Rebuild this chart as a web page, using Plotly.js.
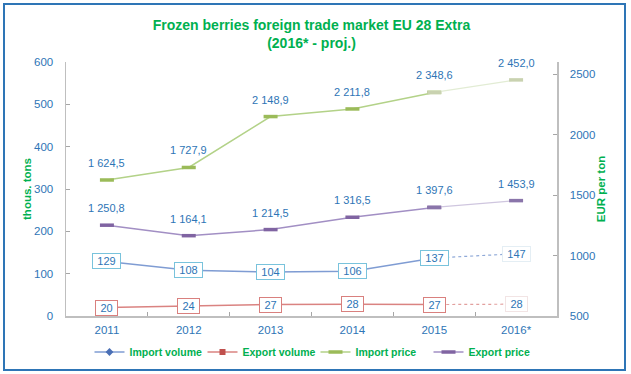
<!DOCTYPE html>
<html>
<head>
<meta charset="utf-8">
<script src="https://cdn.plot.ly/plotly-3.0.1.min.js"></script>
<style>
html,body{margin:0;padding:0;background:#fff;}
#chart{width:631px;height:374px;}
</style>
</head>
<body>
<div id="chart"></div>
<script>
const years = ["2011", "2012", "2013", "2014", "2015", "2016*"];
const importVolume = [129, 108, 104, 106, 137, 147];
const exportVolume = [20, 24, 27, 28, 27, 28];
const importPrice = [1624.5, 1727.9, 2148.9, 2211.8, 2348.6, 2452.0];
const exportPrice = [1250.8, 1164.1, 1214.5, 1316.5, 1397.6, 1453.9];
const leftTicks = [0, 100, 200, 300, 400, 500, 600];
const rightTicks = [500, 1000, 1500, 2000, 2500];

const GREEN = "#00b050";
const BLUE = "#2e75b6";
const FONT = "Liberation Sans, Arial, sans-serif";

function fmtPrice(v) {
  const s = v.toFixed(1).split(".");
  const intPart = s[0].replace(/\B(?=(\d{3})+(?!\d))/g, " ");
  return intPart + "," + s[1];
}

const hist = years.slice(0, 5);
const proj = years.slice(4);

const traces = [
  {x: hist, y: importVolume.slice(0, 5), name: "Import volume", type: "scatter", mode: "lines+markers",
   line: {color: "#7f9cd3", width: 1.5}, marker: {symbol: "diamond", size: 6, color: "#4a6fb5"}, yaxis: "y"},
  {x: proj, y: importVolume.slice(4), type: "scatter", mode: "lines", showlegend: false,
   line: {color: "#8fa9d8", width: 1.2, dash: "dot"}, yaxis: "y"},
  {x: hist, y: exportVolume.slice(0, 5), name: "Export volume", type: "scatter", mode: "lines+markers",
   line: {color: "#da8381", width: 1.5}, marker: {symbol: "square", size: 6, color: "#c0504d"}, yaxis: "y"},
  {x: proj, y: exportVolume.slice(4), type: "scatter", mode: "lines", showlegend: false,
   line: {color: "#e2a09e", width: 1.2, dash: "dot"}, yaxis: "y"},
  {x: hist, y: importPrice.slice(0, 5), name: "Import price", type: "scatter", mode: "lines+markers",
   line: {color: "#b3d288", width: 1.5}, marker: {symbol: "line-ew", size: 10, line: {width: 3.5, color: "#9bbb59"}}, yaxis: "y2"},
  {x: proj, y: importPrice.slice(4), type: "scatter", mode: "lines+markers", showlegend: false,
   line: {color: "#e2ecd4", width: 1.2}, marker: {symbol: "line-ew", size: 10, line: {width: 3.5, color: "#c9d2b0"}}, yaxis: "y2"},
  {x: hist, y: exportPrice.slice(0, 5), name: "Export price", type: "scatter", mode: "lines+markers",
   line: {color: "#a28fc4", width: 1.5}, marker: {symbol: "line-ew", size: 10, line: {width: 3.5, color: "#8064a2"}}, yaxis: "y2"},
  {x: proj, y: exportPrice.slice(4), type: "scatter", mode: "lines+markers", showlegend: false,
   line: {color: "#cfc6df", width: 1.2}, marker: {symbol: "line-ew", size: 10, line: {width: 3.5, color: "#8a75aa"}}, yaxis: "y2"}
];

const annotations = [];
years.forEach((yr, i) => {
  const isProj = i === years.length - 1;
  annotations.push({x: i, y: importVolume[i], xref: "x", yref: "y", text: String(importVolume[i]),
    showarrow: false, font: {family: FONT, size: 11, color: BLUE}, bgcolor: "#ffffff",
    bordercolor: isProj ? "#e4eef4" : "#79c3dc", borderwidth: 1, borderpad: 1, width: 25, height: 12});
  annotations.push({x: i, y: exportVolume[i], xref: "x", yref: "y", text: String(exportVolume[i]),
    showarrow: false, font: {family: FONT, size: 11, color: BLUE}, bgcolor: "#ffffff",
    bordercolor: isProj ? "#f2e4e4" : "#d9807e", borderwidth: 1, borderpad: 1, width: 19, height: 12});
  annotations.push({x: i, y: importPrice[i], xref: "x", yref: "y2", text: fmtPrice(importPrice[i]),
    showarrow: false, yshift: 17, font: {family: FONT, size: 11, color: BLUE}});
  annotations.push({x: i, y: exportPrice[i], xref: "x", yref: "y2", text: fmtPrice(exportPrice[i]),
    showarrow: false, yshift: 17, font: {family: FONT, size: 11, color: BLUE}});
});

const W = 631, H = 374, ML = 66, MR = 74, MT = 62, MB = 58;
const pw = W - ML - MR, ph = H - MT - MB;
const px = v => (v - ML) / pw;
const py = v => (H - MB - v) / ph;

const layout = {
  width: W, height: H,
  margin: {l: ML, r: MR, t: MT, b: MB, pad: 0, autoexpand: false},
  paper_bgcolor: "#ffffff", plot_bgcolor: "#ffffff",
  font: {family: FONT, size: 11.5, color: BLUE},
  title: {text: "Frozen berries foreign trade market EU 28 Extra<br>(2016* - proj.)",
    font: {family: FONT, size: 14, color: GREEN, weight: "bold"},
    x: 0.5, xanchor: "center", xref: "paper", y: 1 - 30 / H, yref: "container", yanchor: "top"},
  xaxis: {type: "category", range: [-0.5, 5.5], showgrid: false, zeroline: false,
    showline: true, linecolor: "#bfbfbf", linewidth: 1.5,
    ticks: "inside", tickson: "boundaries", ticklen: 4, tickcolor: "#a6a6a6",
    tickfont: {family: FONT, size: 11.5, color: BLUE}, ticklabelstandoff: 3},
  yaxis: {range: [0, 600], tickvals: leftTicks, showgrid: false, zeroline: false,
    showline: true, linecolor: "#bfbfbf", linewidth: 1.5,
    ticks: "inside", ticklen: 4, tickcolor: "#a6a6a6", ticklabelstandoff: 9,
    tickfont: {family: FONT, size: 11.5, color: BLUE},
    title: {text: "thous. tons", font: {family: FONT, size: 11.5, color: GREEN, weight: "bold"}, standoff: 0}},
  yaxis2: {range: [500, 2600], tickvals: rightTicks, overlaying: "y", side: "right",
    showgrid: false, zeroline: false, showline: true, linecolor: "#bfbfbf", linewidth: 1.5,
    ticks: "inside", ticklen: 4, tickcolor: "#a6a6a6", ticklabelstandoff: 9,
    tickfont: {family: FONT, size: 11.5, color: BLUE},
    title: {text: "EUR per ton", font: {family: FONT, size: 11.5, color: GREEN, weight: "bold"}, standoff: 2}},
  legend: {orientation: "h", xref: "container", x: 0.5, xanchor: "center",
    yref: "container", y: 1 - 352 / H, yanchor: "middle",
    font: {family: FONT, size: 10.5, color: GREEN, weight: "bold"},
    itemwidth: 30, entrywidth: 68, entrywidthmode: "pixels", bgcolor: "rgba(0,0,0,0)", traceorder: "normal"},
  annotations: annotations,
  shapes: [{type: "rect", xref: "paper", yref: "paper",
    x0: px(4), x1: px(625), y0: py(370), y1: py(4),
    line: {color: "#2e75b6", width: 2}, fillcolor: "rgba(0,0,0,0)", layer: "below"}],
  showlegend: true
};

Plotly.newPlot("chart", traces, layout, {displayModeBar: false, staticPlot: true});
</script>
</body>
</html>
